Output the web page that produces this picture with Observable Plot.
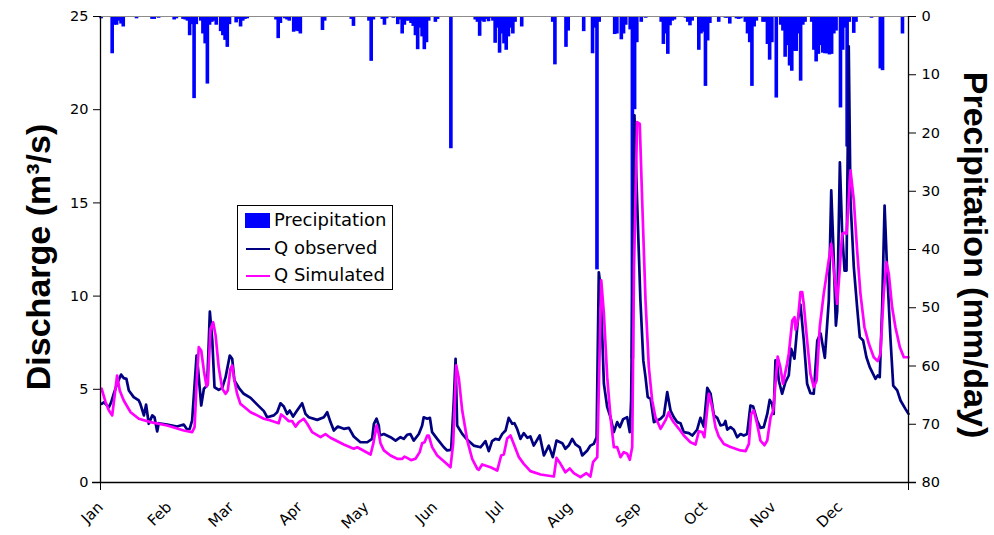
<!DOCTYPE html>
<html><head><meta charset="utf-8">
<script src="https://cdn.jsdelivr.net/npm/d3@7"></script>
<script src="https://cdn.jsdelivr.net/npm/@observablehq/plot@0.6"></script>
<style>
html,body{margin:0;padding:0;background:#fff;}
#wrap{position:relative;width:994px;height:535px;overflow:hidden;}
.title{position:absolute;font-family:"Liberation Sans",Arial,sans-serif;font-weight:bold;font-size:34px;white-space:nowrap;color:#000;line-height:1;}
#legend{position:absolute;left:237px;top:205px;width:156px;height:85px;border:1px solid #000;background:#fff;box-sizing:border-box;font-family:"DejaVu Sans",Verdana,sans-serif;font-size:18px;color:#000;}
#legend .t{position:absolute;left:36px;line-height:1;}
#legend .sw{position:absolute;}
</style></head>
<body><div id="wrap"></div>
<script>
// ---- data (day of year, value) ----
const monthStarts = [0,31,59,90,120,151,181,212,243,273,304,334];
const monthNames = ["Jan","Feb","Mar","Apr","May","Jun","Jul","Aug","Sep","Oct","Nov","Dec"];
const dischargeTicks = [0,5,10,15,20,25];
const precipTicks = [0,10,20,30,40,50,60,70,80];

const qObserved = [[0.5,4.22],[1.5,4.3],[3.8,4.04],[4.8,4.3],[6,4.76],[7.5,5.3],[9.3,5.79],[10.5,5.6],[11.7,5.56],[12.8,4.94],[15,4.58],[17.3,4.4],[18,4.22],[19.6,3.6],[20.6,4.18],[21.8,3.15],[23.4,3.6],[24.4,3.5],[25.6,2.74],[26.3,3.18],[30.1,3.11],[34.6,3.0],[37.6,3.11],[39.2,2.83],[40.3,2.88],[41.4,3.33],[43.4,6.81],[44,6.19],[45.5,4.13],[46.7,5.03],[48.2,5.2],[49.4,9.17],[50.5,7.62],[51.5,5.11],[53.4,4.97],[55,5.08],[56.5,5.65],[58.4,6.81],[59.5,6.63],[60.5,5.47],[62.5,5.08],[64.7,4.76],[67.8,4.54],[70.8,4.18],[73.8,3.83],[75.3,3.5],[78.3,3.6],[79.8,3.77],[81.3,4.25],[82.8,4.08],[84.3,3.68],[85.5,3.86],[87,3.54],[88.8,3.86],[91.1,4.25],[92.6,3.68],[94.1,3.5],[97.9,3.36],[100.9,3.5],[102.4,3.77],[103.9,3.24],[105.4,2.79],[107.2,3.0],[109.9,2.88],[112.2,2.93],[114.4,2.47],[117.4,2.16],[120.5,2.16],[122.7,2.34],[123.5,3.15],[124.7,3.42],[125.7,3.06],[126.2,2.52],[128,2.6],[131,2.43],[133.3,2.25],[135.5,2.43],[137,2.34],[138.5,2.56],[140,2.6],[141.5,2.25],[143.8,2.6],[145.3,3.06],[146,3.5],[147.6,3.42],[148.8,3.47],[149.8,2.7],[152.1,2.34],[155.1,1.89],[156.6,1.72],[158.4,1.75],[159.6,4.4],[160.4,6.64],[161.1,3.06],[163.4,2.61],[165.7,2.29],[168.6,1.98],[171.7,1.89],[173.9,2.22],[175.4,1.68],[176.9,2.22],[178.4,2.34],[180,2.29],[181.5,2.61],[183,2.79],[184.4,3.47],[186,3.15],[187,3.18],[188.2,2.88],[189.7,2.34],[191.2,2.65],[192.8,2.4],[194.2,2.47],[195.7,1.98],[198.4,2.52],[200.3,1.45],[202.5,1.98],[204.3,1.36],[206,2.25],[208.6,2.11],[210,1.81],[211.5,1.98],[213.1,2.34],[214.6,2.04],[216.5,1.89],[217.6,1.45],[219.9,1.72],[221.3,1.98],[222.8,2.07],[224.1,2.43],[225.1,11.28],[225.9,10.48],[227.4,5.3],[228.9,4.04],[230.4,3.5],[231.9,2.7],[233.4,3.24],[234.6,2.97],[236.1,3.4],[237.9,3.5],[239.1,2.7],[239.7,4.4],[241.2,19.7],[242.4,15.1],[243.9,9.76],[245.2,6.55],[246.2,5.65],[247.2,4.58],[248.5,4.49],[250,3.24],[251.5,3.33],[253,3.42],[254.5,3.6],[256,4.85],[257.5,3.86],[259,3.5],[260.5,3.24],[262,3.18],[263.5,2.7],[265.8,2.65],[267.3,2.52],[269.5,2.83],[271,3.47],[272.5,3.0],[274.1,5.08],[275.6,4.76],[277.1,3.6],[278.6,3.47],[280.1,3.06],[281.6,3.11],[282.3,3.3],[283.1,2.84],[284.6,2.97],[286.1,2.83],[287.6,2.43],[289.1,2.6],[290.6,2.52],[292.1,2.6],[293.6,4.13],[294.8,4.08],[296.6,3.33],[298.1,2.93],[299.6,2.97],[301.2,3.68],[302.3,4.43],[303.4,4.22],[304.1,3.68],[304.9,6.55],[305.6,6.5],[306.4,5.47],[307.9,4.76],[309.4,5.38],[310.9,5.74],[312,7.17],[313.5,6.64],[315,8.69],[316.2,9.55],[317.7,7.62],[319.2,5.3],[320.7,4.79],[322.2,4.76],[323.8,7.62],[325.3,8.0],[327.2,6.69],[329,9.76],[330.1,15.67],[331,12.8],[332.2,8.42],[332.8,9.2],[334,17.18],[335,13.5],[336.1,11.37],[337,11.37],[338,23.4],[338.8,15.1],[340.3,11.55],[341.8,9.4],[343,7.8],[344.5,7.62],[346,6.72],[347.5,6.19],[348.6,5.92],[350.1,5.56],[351.1,5.74],[352,5.65],[353.1,9.4],[354.2,14.86],[355.4,11.2],[356.9,7.62],[358.1,5.2],[359.9,4.94],[361.4,4.4],[363.6,3.95],[365,3.68]];

const qSimulated = [[0.5,5.03],[2.3,4.31],[3.8,3.86],[5.3,3.6],[6.3,4.58],[7.5,5.74],[8.7,4.94],[10.5,4.4],[13.6,3.77],[17.3,3.42],[22.6,3.24],[30.1,3.06],[37.6,2.79],[41.4,2.7],[42.5,2.97],[43.4,5.3],[44.4,7.26],[45.5,7.08],[46.7,6.0],[47.9,5.15],[48.5,5.3],[49.7,8.24],[50.9,8.6],[52,7.89],[53.4,6.19],[55,5.03],[56.5,4.76],[57.5,4.94],[58.7,6.1],[59.5,6.28],[60.5,5.47],[61.7,4.76],[63.2,4.22],[64.7,4.08],[67.8,3.77],[70.8,3.6],[73.8,3.42],[76.8,3.33],[80.5,3.18],[81.6,3.65],[82.8,3.54],[85.1,3.29],[86.6,3.29],[88.1,3.0],[89.6,3.24],[91.8,3.42],[93.4,3.15],[95.6,2.7],[99.4,2.43],[101.6,2.59],[103.9,2.4],[109.9,2.04],[114.4,1.81],[116,1.89],[122,1.5],[123.2,2.07],[124.7,3.06],[125.7,2.61],[126.5,2.1],[128,1.72],[131,1.45],[134,1.27],[136.3,1.27],[137.3,1.39],[138.5,1.32],[140.3,1.2],[142.3,1.27],[144.2,1.63],[145.3,2.11],[146.4,2.16],[147.6,2.52],[148.3,2.52],[149.8,1.9],[152.1,1.45],[155.1,1.14],[158.1,0.82],[159.3,2.07],[160.7,6.28],[161.9,5.56],[163.4,3.86],[165.7,2.25],[167.9,1.27],[170.2,0.73],[170.9,0.68],[172.4,0.97],[176.2,0.82],[179.2,0.64],[181,1.45],[182.2,1.5],[183.7,2.36],[185.2,2.52],[186.7,2.07],[189,1.36],[191.2,1.0],[194.2,0.61],[198.8,0.43],[204.8,0.32],[206,1.32],[207.8,1.0],[210,0.55],[212,0.75],[213.8,0.5],[216.8,0.29],[219.5,0.5],[221.3,0.32],[222.5,1.09],[224.4,1.36],[226.2,10.84],[227.4,9.05],[228.9,5.65],[230.4,3.5],[231.9,1.9],[233.4,1.9],[234.9,1.36],[236.4,1.63],[237.9,1.54],[239.1,1.22],[240.2,1.9],[241,11.55],[242.4,19.33],[243.6,19.24],[244.7,15.1],[246.2,9.76],[247.7,6.19],[249.2,4.4],[250.7,3.5],[253,2.88],[255.2,3.33],[256.7,3.77],[257.5,3.5],[259,3.22],[261.3,2.88],[263.5,2.52],[266.5,2.16],[268.8,2.04],[270.3,2.75],[271.8,2.7],[272.8,2.43],[274.8,4.76],[276.3,4.04],[277.8,2.97],[279.3,2.47],[281.6,2.07],[284.6,1.9],[289.1,1.72],[291.4,1.68],[292.9,2.07],[293.9,3.68],[295.1,3.86],[296.6,3.15],[298.1,2.25],[299.9,2.0],[301.2,2.25],[302.7,3.5],[303.9,3.86],[304.9,5.3],[305.9,6.76],[307.1,6.19],[308.3,5.3],[310.2,6.4],[310.9,6.9],[312.5,8.69],[313.5,8.87],[314,8.2],[315,8.69],[316.2,10.21],[317,10.21],[317.7,9.55],[319.2,7.62],[320.7,5.83],[322.2,5.11],[323.5,5.47],[324.9,8.33],[326.7,10.12],[328.5,11.55],[330.1,12.8],[331.6,11.0],[332.8,9.59],[334,11.55],[335,13.34],[336.1,13.4],[337,13.34],[337.5,14.23],[338.8,16.74],[340.3,15.13],[341.8,12.45],[343.3,10.12],[345.1,8.33],[347.1,7.44],[349.3,6.72],[351.1,6.51],[352.3,6.9],[353.8,10.12],[355,11.82],[356.1,11.2],[357.6,9.4],[359.1,8.33],[361.1,7.26],[362.9,6.72],[365,6.72]];

// precipitation: [day, mm/day]
const precipitation = [[0,0.4],[5,6.4],[6,1.5],[7,1.5],[8,0.8],[9,1.3],[10,1.8],[16,0.4],[23,0.5],[24,0.5],[26,0.3],[33,0.6],[34,0.4],[37,0.5],[38,0.6],[39,0.8],[40,3.3],[41,1.4],[42,14.1],[43,1.4],[45,0.8],[46,3.0],[47,4.7],[48,11.6],[49,1.5],[50,1.0],[51,0.8],[52,1.5],[54,2.6],[55,3.3],[56,4.1],[57,5.3],[58,1.4],[61,1.1],[62,0.5],[63,1.8],[64,0.8],[65,0.5],[66,0.4],[79,0.6],[80,3.8],[81,1.2],[83,0.4],[84,0.6],[85,0.8],[87,2.7],[88,2.5],[89,2.6],[90,3.0],[100,2.4],[101,0.8],[113,0.5],[114,1.7],[121,0.8],[122,7.7],[123,0.6],[127,0.5],[128,1.5],[129,0.4],[132,0.3],[134,1.4],[135,0.6],[136,3.0],[137,1.5],[138,0.8],[139,0.8],[140,1.2],[141,1.7],[142,3.3],[143,5.7],[144,2.0],[145,3.5],[146,5.7],[147,4.5],[148,0.8],[151,1.0],[152,0.5],[158,22.7],[169,0.6],[170,1.0],[171,3.4],[172,0.8],[173,1.0],[174,0.5],[175,0.9],[176,0.3],[177,0.8],[178,4.6],[179,2.0],[180,6.3],[181,3.0],[182,4.7],[183,5.8],[184,3.5],[185,2.0],[186,3.0],[187,1.0],[190,1.8],[204,1.0],[205,8.3],[210,5.3],[211,2.5],[218,2.6],[222,6.4],[223,2.0],[224,43.5],[225,1.0],[232,3.1],[233,3.0],[235,4.0],[236,3.0],[237,1.5],[239,2.3],[240,58.8],[241,16.0],[242,4.5],[244,1.0],[246,0.3],[253,1.0],[254,4.8],[255,3.0],[256,6.5],[257,1.6],[258,0.8],[259,0.6],[264,0.3],[265,1.0],[266,1.6],[267,0.8],[270,5.8],[271,3.0],[272,2.7],[273,12.0],[274,4.2],[275,1.2],[279,1.0],[282,0.3],[283,0.3],[284,1.3],[287,0.4],[288,0.5],[289,0.4],[291,1.0],[292,3.0],[293,4.5],[294,12.0],[295,1.8],[296,0.8],[299,1.0],[300,1.0],[301,4.8],[302,7.5],[303,4.5],[305,14.0],[307,1.5],[308,2.5],[309,7.0],[310,5.0],[311,8.5],[312,9.4],[313,6.0],[314,6.0],[315,3.0],[316,11.1],[317,1.5],[318,1.0],[321,1.0],[322,5.8],[323,7.8],[324,6.5],[325,5.0],[326,6.3],[327,6.4],[328,6.4],[329,6.6],[330,6.5],[331,3.0],[332,2.5],[334,15.7],[335,5.8],[336,2.0],[337,22.4],[338,1.0],[340,2.9],[341,1.0],[348,0.3],[352,9.0],[353,9.3],[362,3.0]];

// ---- secondary axis mapping: precipitation 0..80 (top→bottom) onto discharge 25..0 ----
const QMAX = 25, PMAX = 80;
const p2q = mm => QMAX - mm * QMAX / PMAX;
const q2p = q => Math.round((QMAX - q) * PMAX / QMAX);

const obs = qObserved.map(([day, q]) => ({day, q}));
const sim = qSimulated.map(([day, q]) => ({day, q}));
const rain = precipitation.map(([day, mm]) => ({day, mm}));

const chart = Plot.plot({
  width: 994, height: 535,
  marginLeft: 100, marginRight: 86, marginTop: 16, marginBottom: 53,
  style: {fontFamily: "'DejaVu Sans', Verdana, sans-serif", fontSize: "14px", color: "#000", background: "#fff"},
  x: {domain: [0, 365]},
  y: {domain: [0, QMAX]},
  marks: [
    Plot.rect(rain, {x1: d => d.day, x2: d => d.day + 1, y1: QMAX, y2: d => p2q(d.mm), fill: "#0000FF", insetLeft: -0.7, insetRight: -0.7}),
    Plot.ruleY([QMAX], {stroke: "#8c8c8c", strokeWidth: 1.2}),
    Plot.line(obs, {x: "day", y: "q", stroke: "#000080", strokeWidth: 2.7}),
    Plot.line(sim, {x: "day", y: "q", stroke: "#FF00FF", strokeWidth: 2.7}),
    Plot.ruleX([0], {stroke: "#000", strokeWidth: 1.3}),
    Plot.ruleX([365], {stroke: "#000", strokeWidth: 1.3}),
    Plot.ruleY([0], {x1: -3.6, x2: 368.6, stroke: "#000", strokeWidth: 1.3, clip: false}),
    Plot.axisY(dischargeTicks, {anchor: "left", tickSize: 7, tickPadding: 5, label: null, fontSize: 14.5}),
    Plot.axisY(precipTicks.map(p2q), {anchor: "right", tickSize: 7, tickPadding: 6, label: null, fontSize: 14.5, tickFormat: q2p}),
    Plot.axisX([0, 365], {tickSize: 8, tickFormat: () => "", label: null}),
    Plot.axisX(monthStarts, {tickSize: 0, tickPadding: 22, tickRotate: -45, label: null, fontSize: 15,
      tickFormat: d => monthNames[monthStarts.indexOf(d)]})
  ]
});
const wrap = document.getElementById("wrap");
wrap.appendChild(chart);

// axis titles
const lt = document.createElement("div");
lt.className = "title";
lt.textContent = "Discharge (m³/s)";
lt.style.left = "38px"; lt.style.top = "257px";
lt.style.transform = "translate(-50%,-50%) rotate(-90deg)";
wrap.appendChild(lt);
const rt = document.createElement("div");
rt.className = "title";
rt.textContent = "Precipitation (mm/day)";
rt.style.left = "976px"; rt.style.top = "255px";
rt.style.transform = "translate(-50%,-50%) rotate(90deg)";
wrap.appendChild(rt);

// legend
const legendItems = [
  {label: "Precipitation", kind: "rect", color: "#0000FF", y: 15},
  {label: "Q observed", kind: "line", color: "#000080", y: 43},
  {label: "Q Simulated", kind: "line", color: "#FF00FF", y: 70}
];
const lg = document.createElement("div");
lg.id = "legend";
for (const it of legendItems) {
  const sw = document.createElement("div");
  sw.className = "sw";
  sw.style.background = it.color;
  if (it.kind === "rect") { sw.style.left = "7px"; sw.style.width = "25px"; sw.style.top = (it.y - 8) + "px"; sw.style.height = "15px"; }
  else { sw.style.left = "8px"; sw.style.width = "24px"; sw.style.top = (it.y - 1) + "px"; sw.style.height = "2px"; }
  lg.appendChild(sw);
  const t = document.createElement("div");
  t.className = "t";
  t.textContent = it.label;
  t.style.top = (it.y - 10) + "px";
  lg.appendChild(t);
}
wrap.appendChild(lg);
</script>
</body></html>
